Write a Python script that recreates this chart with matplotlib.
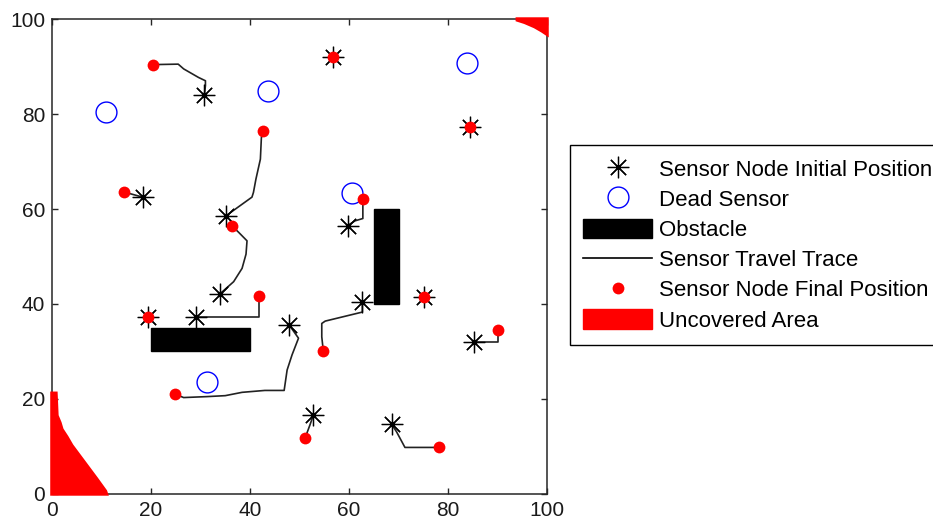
import matplotlib
matplotlib.use("Agg")
import matplotlib.pyplot as plt
from matplotlib.lines import Line2D
from matplotlib.patches import Rectangle, Polygon

plt.rcParams['font.family'] = ['Liberation Sans', 'DejaVu Sans']

# initial sensor positions
init_x = [30.8, 18.3, 35.2, 33.9, 19.4, 29.1, 47.9, 56.8, 84.4, 59.7, 62.7, 75.2, 85.3, 52.8, 68.6]
init_y = [84.0, 62.5, 58.6, 42.1, 37.2, 37.2, 35.6, 92.1, 77.2, 56.5, 40.4, 41.4, 32.1, 16.6, 14.7]

# final sensor positions after relocation
final_x = [20.4, 14.5, 42.6, 36.4, 19.4, 41.8, 24.9, 56.8, 84.4, 62.8, 54.8, 75.2, 90.0, 51.1, 78.2]
final_y = [90.4, 63.6, 76.4, 56.4, 37.2, 41.7, 21.0, 92.1, 77.2, 62.1, 30.2, 41.4, 34.5, 11.7, 9.8]

# waypoints between start and end of each sensor's path
trace_mid = [
    [(31.0, 86.0), (31.0, 87.0), (29.6, 87.7), (26.6, 89.5), (25.5, 90.5)],
    [],
    [(40.4, 62.5), (40.7, 63.5), (41.2, 66.3), (42.1, 70.5), (42.3, 75.0)],
    [(36.7, 44.7), (38.4, 47.5), (39.2, 50.5), (39.4, 53.3), (37.7, 55.1)],
    [],
    [(41.8, 37.2)],
    [(49.8, 32.8), (48.5, 29.3), (47.5, 26.1), (46.9, 21.8), (43.0, 21.8),
     (38.4, 21.4), (35.0, 20.7), (31.3, 20.5), (26.6, 20.3)],
    [],
    [],
    [(61.2, 57.5), (62.8, 58.0)],
    [(62.7, 38.3), (55.2, 36.4), (54.5, 35.9), (54.5, 33.1)],
    [],
    [(90.0, 32.1)],
    [(52.1, 14.5), (51.6, 13.1)],
    [(69.6, 13.1), (71.3, 9.8)],
]

# dead sensors
dead_x = [10.9, 43.6, 83.8, 60.7, 31.4]
dead_y = [80.4, 84.8, 90.7, 63.3, 23.5]

# obstacles: (x, y, width, height)
obstacles = [(20, 30, 20, 5), (65, 40, 5, 20)]

# uncovered regions (outline vertices)
uncovered_ll = [(0, 0), (0, 21.2), (0.8, 21.2), (1.0, 16.5), (1.6, 15.0), (2.0, 13.6),
                (3.0, 12.0), (4.0, 10.2), (5.0, 8.8), (7.0, 6.0), (9.0, 3.2), (10.8, 0.6), (11.0, 0)]
uncovered_tr = [(94.0, 100), (100, 100), (100, 96.8), (99.0, 97.5), (97.5, 98.4),
                (95.5, 99.3), (94.0, 99.8)]

fig = plt.figure(figsize=(9.33, 5.24), dpi=100)
ax = fig.add_axes([0.0557, 0.0573, 0.5306, 0.9064])

for x, y, w, h in obstacles:
    ax.add_patch(Rectangle((x, y), w, h, facecolor='black', edgecolor='black', zorder=2))

for verts in (uncovered_ll, uncovered_tr):
    ax.add_patch(Polygon(verts, closed=True, facecolor='red', edgecolor='red',
                         linewidth=2.5, clip_on=False, zorder=3))

for i in range(len(init_x)):
    pts = [(init_x[i], init_y[i])] + trace_mid[i] + [(final_x[i], final_y[i])]
    xs, ys = zip(*pts)
    ax.plot(xs, ys, color='#222222', linewidth=1.2, zorder=3)

star = (8, 2, 0)
ax.plot(init_x, init_y, linestyle='none', marker=star, markersize=15.5,
        markeredgewidth=0.9, color='black', zorder=4)
ax.plot(init_x, init_y, linestyle='none', marker='o', markersize=3,
        color='black', zorder=4)
ax.plot(dead_x, dead_y, linestyle='none', marker='o', markersize=15,
        markerfacecolor='none', markeredgecolor='blue', markeredgewidth=1.0, zorder=4)
ax.plot(final_x, final_y, linestyle='none', marker='o', markersize=8.5,
        color='red', markeredgewidth=0, zorder=5)

ax.set_xlim(0, 100)
ax.set_ylim(0, 100)
ax.set_xticks(range(0, 101, 20))
ax.set_yticks(range(0, 101, 20))
ax.tick_params(direction='in', length=4, width=1, top=True, right=True,
               labelsize=15, pad=5, colors='#262626', labelcolor='#1a1a1a')
for s in ax.spines.values():
    s.set_linewidth(1.1)
    s.set_color('#262626')

handles = [
    Line2D([], [], linestyle='none', marker=star, markersize=15.5, markeredgewidth=0.9, color='black'),
    Line2D([], [], linestyle='none', marker='o', markersize=15, markerfacecolor='none',
           markeredgecolor='blue', markeredgewidth=1.0),
    Rectangle((0, 0), 1, 1, facecolor='black', edgecolor='black'),
    Line2D([], [], color='black', linewidth=1.2),
    Line2D([], [], linestyle='none', marker='o', markersize=8.5, color='red', markeredgewidth=0),
    Rectangle((0, 0), 1, 1, facecolor='red', edgecolor='red'),
]
labels = ['Sensor Node Initial Position', 'Dead Sensor', 'Obstacle',
          'Sensor Travel Trace', 'Sensor Node Final Position', 'Uncovered Area']
leg = fig.legend(handles, labels, loc='upper left', bbox_to_anchor=(570 / 933, 1 - 145 / 524),
                 fontsize=16, frameon=True, fancybox=False, framealpha=1,
                 edgecolor='black', handlelength=3.1, handleheight=0.95,
                 handletextpad=0.3, borderpad=0.6, labelspacing=0.36, borderaxespad=0)
leg.get_frame().set_linewidth(1.0)

fig.savefig('out.png', dpi=100)
